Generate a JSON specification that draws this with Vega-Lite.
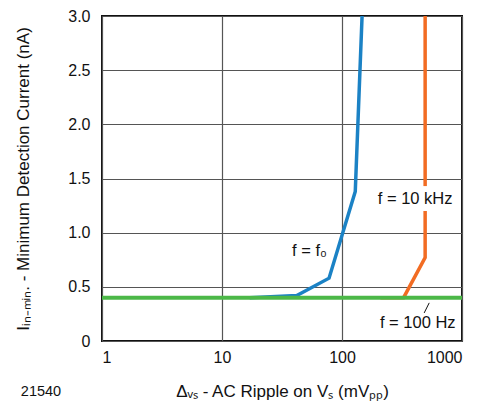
{
  "$schema": "https://vega.github.io/schema/vega-lite/v6.json",
  "width": 360,
  "height": 325,
  "autosize": "none",
  "padding": {"left": 102, "top": 16, "right": 22, "bottom": 70},
  "background": "white",
  "config": {
    "font": "Liberation Sans",
    "view": {"stroke": "#111111", "strokeWidth": 2},
    "axis": {
      "labelFont": "Liberation Sans",
      "labelFontSize": 16,
      "labelColor": "#111111",
      "titleFont": "Liberation Sans",
      "titleFontSize": 17,
      "titleFontWeight": "normal",
      "titleColor": "#111111",
      "domain": false,
      "ticks": false,
      "grid": true,
      "gridColor": "#555555",
      "gridWidth": 1.2,
      "gridOpacity": 1
    }
  },
  "datasets": {
    "curves": [
      {"series": "f0", "seg": "f0", "x": 17, "y": 0.4},
      {"series": "f0", "seg": "f0", "x": 42, "y": 0.42},
      {"series": "f0", "seg": "f0", "x": 78, "y": 0.58},
      {"series": "f0", "seg": "f0", "x": 129, "y": 1.38},
      {"series": "f0", "seg": "f0", "x": 147, "y": 3.0},
      {"series": "10k", "seg": "10k-a", "x": 209, "y": 0.4},
      {"series": "10k", "seg": "10k-a", "x": 326, "y": 0.4},
      {"series": "10k", "seg": "10k-a", "x": 493, "y": 0.77},
      {"series": "10k", "seg": "10k-a", "x": 493, "y": 1.2},
      {"series": "10k", "seg": "10k-b", "x": 493, "y": 1.43},
      {"series": "10k", "seg": "10k-b", "x": 493, "y": 3.0}
    ],
    "flat": [
      {"series": "100", "x": 1, "y": 0.4},
      {"series": "100", "x": 1000, "y": 0.4}
    ],
    "labels": [
      {"label": "f = f₀", "x": 53.6, "y": 0.83},
      {"label": "f = 10 kHz", "x": 407, "y": 1.31},
      {"label": "f = 100 Hz", "x": 428, "y": 0.17}
    ],
    "pointer": [
      {"x": 533, "y": 0.352, "x2": 484, "y2": 0.259}
    ],
    "note": [
      {"label": "21540", "x": 1, "y": 0}
    ]
  },
  "layer": [
    {
      "data": {"name": "curves"},
      "mark": {"type": "line", "strokeWidth": 3.5, "clip": true},
      "encoding": {
        "x": {
          "field": "x", "type": "quantitative",
          "scale": {"type": "log", "domain": [1, 1000]},
          "axis": {
            "values": [1, 10, 100, 1000],
            "format": "d",
            "labelPadding": 8,
            "title": "Δᵥₛ - AC Ripple on Vₛ (mVₚₚ)",
            "titlePadding": 18
          }
        },
        "y": {
          "field": "y", "type": "quantitative",
          "scale": {"domain": [0, 3]},
          "axis": {
            "values": [0, 0.5, 1, 1.5, 2, 2.5, 3],
            "labelExpr": "datum.value == 0 ? '0' : format(datum.value, '.1f')",
            "labelPadding": 12,
            "title": "Iᵢₙ₋ₘᵢₙ. - Minimum Detection Current (nA)",
            "titlePadding": 35
          }
        },
        "color": {
          "field": "series", "type": "nominal",
          "scale": {"domain": ["f0", "10k"], "range": ["#1b82c5", "#f26c23"]},
          "legend": null
        },
        "detail": {"field": "seg"}
      }
    },
    {
      "data": {"name": "flat"},
      "mark": {"type": "line", "strokeWidth": 4, "color": "#4cb848"},
      "encoding": {
        "x": {"field": "x", "type": "quantitative"},
        "y": {"field": "y", "type": "quantitative"}
      }
    },
    {
      "data": {"name": "pointer"},
      "mark": {"type": "rule", "color": "#111111", "strokeWidth": 1},
      "encoding": {
        "x": {"field": "x", "type": "quantitative"},
        "y": {"field": "y", "type": "quantitative"},
        "x2": {"field": "x2"},
        "y2": {"field": "y2"}
      }
    },
    {
      "data": {"name": "labels"},
      "mark": {"type": "text", "fontSize": 16.5, "color": "#111111", "align": "center", "baseline": "middle"},
      "encoding": {
        "x": {"field": "x", "type": "quantitative"},
        "y": {"field": "y", "type": "quantitative"},
        "text": {"field": "label"}
      }
    },
    {
      "data": {"name": "note"},
      "mark": {"type": "text", "fontSize": 14.5, "color": "#111111", "align": "center", "baseline": "middle", "dx": -61, "dy": 51, "clip": false},
      "encoding": {
        "x": {"field": "x", "type": "quantitative"},
        "y": {"field": "y", "type": "quantitative"},
        "text": {"field": "label"}
      }
    }
  ]
}
